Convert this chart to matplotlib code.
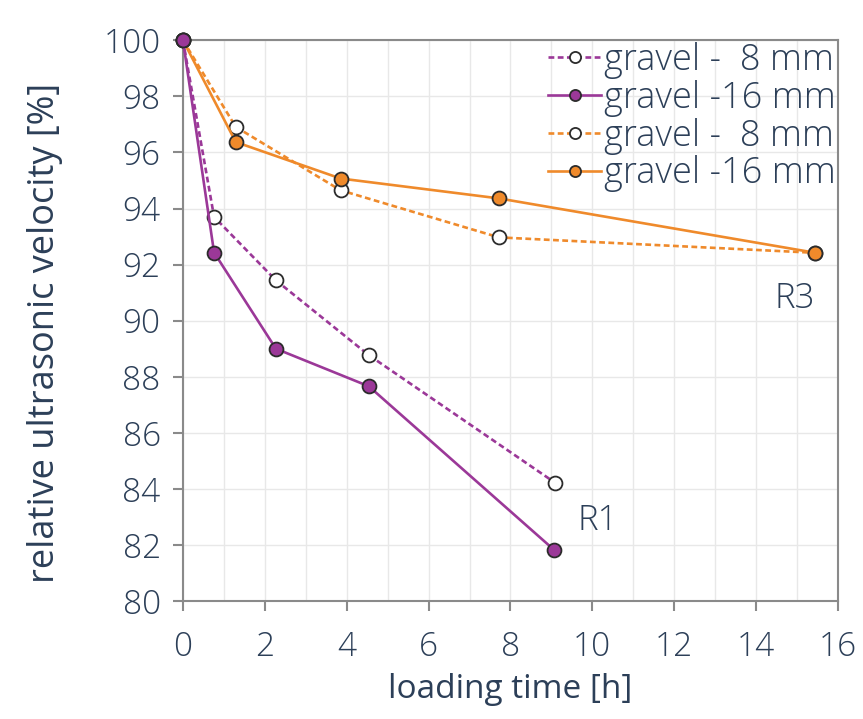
import matplotlib.pyplot as plt
from matplotlib.ticker import MultipleLocator

# loading time [h] and relative ultrasonic velocity [%]
t_r1_8 = [0, 0.76, 2.27, 4.54, 9.09]
v_r1_8 = [100, 93.7, 91.44, 88.77, 84.22]
t_r1_16 = [0, 0.76, 2.27, 4.54, 9.07]
v_r1_16 = [100, 92.43, 89.0, 87.66, 81.82]
t_r3_8 = [0, 1.29, 3.85, 7.72, 15.45]
v_r3_8 = [100, 96.91, 94.65, 92.97, 92.42]
t_r3_16 = [0, 1.29, 3.85, 7.72, 15.45]
v_r3_16 = [100, 96.37, 95.07, 94.36, 92.42]
labels = ['gravel -  8 mm', 'gravel -16 mm', 'gravel -  8 mm', 'gravel -16 mm']

purple = '#9b3898'
orange = '#ef8a2b'
txt = '#2c3f58'
grey = '#8a8a8a'

plt.rcParams['font.family'] = ['Open Sans', 'DejaVu Sans']
plt.rcParams['font.weight'] = 'light'

fig = plt.figure(figsize=(8.63, 7.19), dpi=100)
ax = fig.add_axes([0.212, 0.164, 0.759, 0.780])

ms = 10
lw = 1.9
dash = (2.2, 1.3)
h1, = ax.plot(t_r1_8, v_r1_8, color=purple, lw=lw, dashes=dash, marker='o', ms=ms,
              mfc='white', mec='#2b2b2b', mew=1.3, zorder=5, clip_on=False)
h2, = ax.plot(t_r1_16, v_r1_16, color=purple, lw=lw, marker='o', ms=ms,
              mfc=purple, mec='#2b2b2b', mew=1.3, zorder=6, clip_on=False)
h3, = ax.plot(t_r3_8, v_r3_8, color=orange, lw=lw, dashes=dash, marker='o', ms=ms,
              mfc='white', mec='#2b2b2b', mew=1.3, zorder=3, clip_on=False)
h4, = ax.plot(t_r3_16, v_r3_16, color=orange, lw=lw, marker='o', ms=ms,
              mfc=orange, mec='#2b2b2b', mew=1.3, zorder=4, clip_on=False)

ax.set_xlim(0, 16)
ax.set_ylim(80, 100)
ax.xaxis.set_major_locator(MultipleLocator(2))
ax.xaxis.set_minor_locator(MultipleLocator(1))
ax.yaxis.set_major_locator(MultipleLocator(2))

ax.grid(True, which='major', color='#e8e8e8', lw=1.0, zorder=0)
ax.grid(True, which='minor', axis='x', color='#e8e8e8', lw=1.0, zorder=0)
ax.set_axisbelow(True)

for s in ax.spines.values():
    s.set_color(grey)
    s.set_linewidth(1.5)

ax.tick_params(which='major', length=7, width=1.5, color=grey, labelsize=24,
               labelcolor=txt)
ax.tick_params(axis='x', pad=14)
ax.tick_params(axis='y', pad=9)
ax.tick_params(which='minor', length=0)

ax.set_xlabel('loading time [h]', fontsize=24, color=txt)
ax.set_ylabel('relative ultrasonic velocity [%]', fontsize=26, color=txt)
ax.xaxis.set_label_coords(0.5, -0.128)
ax.yaxis.set_label_coords(-0.183, 0.478)

ax.text(9.64, 82.53, 'R1', fontsize=25, color=txt)
ax.text(14.45, 90.45, 'R3', fontsize=25, color=txt)

leg = ax.legend([h1, h2, h3, h4], labels, loc='upper right', frameon=False,
                fontsize=26, handlelength=1.45, handletextpad=0.1, labelspacing=0.02,
                borderaxespad=0.0, borderpad=0.05, markerscale=0.8)
for t in leg.get_texts():
    t.set_color(txt)

fig.savefig('out.png', dpi=100)
